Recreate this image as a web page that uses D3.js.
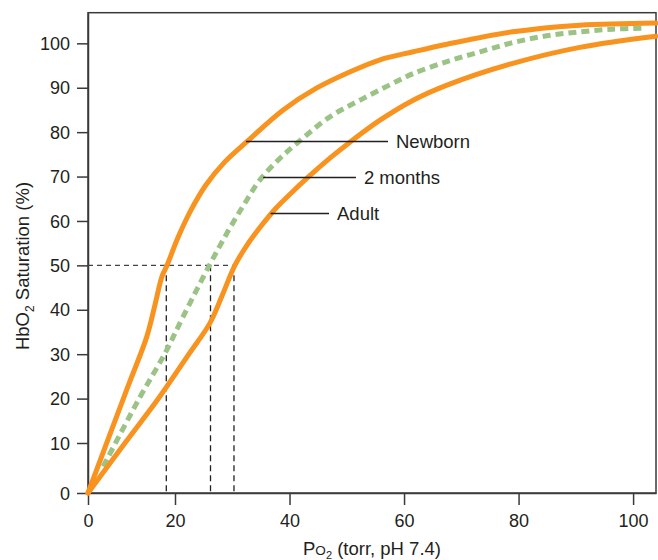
<!DOCTYPE html>
<html>
<head>
<meta charset="utf-8">
<script src="https://cdn.jsdelivr.net/npm/d3@7"></script>
<style>
  html, body { margin: 0; padding: 0; background: #fff; }
  svg { display: block; font-family: "Liberation Sans", Arial, Helvetica, sans-serif; }
</style>
</head>
<body>
<svg id="chart" width="658" height="560"></svg>
<script>
// Oxygen dissociation curves of haemoglobin at three ages (PO2 in torr, saturation in %)
const newbornPO2 = [0, 8.97, 13.5, 15.4, 17.0, 18.2, 20.5, 22.6, 25.4, 28.7, 32.5, 38.9, 44.7, 50.6, 55.8, 61.6, 67.5, 79.0, 90.7, 104.0];
const newbornSat = [0, 22.2, 33.9, 41.1, 47.5, 50.1, 56.2, 62.0, 68.1, 73.3, 77.8, 85.0, 89.9, 93.6, 96.3, 98.1, 99.8, 102.6, 104.1, 104.6];

const twoMonthPO2 = [3.5, 11.7, 17.7, 21.4, 26.0, 29.4, 32.2, 34.8, 38.0, 41.3, 47.1, 52.9, 59.3, 61.6, 67.5, 73.3, 79.1, 84.9, 90.7, 96.5, 101.8];
const twoMonthSat = [5.3, 19.9, 30.2, 38.4, 50.0, 58.0, 64.0, 69.2, 73.7, 77.5, 83.5, 87.6, 91.8, 93.2, 95.9, 98.1, 100.2, 101.7, 102.6, 103.2, 103.4];

const adultPO2 = [0, 8.5, 16.1, 22.3, 26.1, 28.2, 30.5, 32.7, 35.0, 37.5, 40.3, 43.1, 47.1, 50.6, 55.8, 61.6, 67.5, 79.0, 90.7, 104.0];
const adultSat = [0, 10.0, 19.9, 29.8, 37.0, 43.1, 50.1, 54.8, 58.8, 62.7, 66.3, 69.7, 74.2, 77.8, 82.7, 87.2, 90.6, 95.5, 99.1, 101.6];

// PO2 at half saturation for each curve (newborn, 2 months, adult)
const p50Values = [18, 26.2, 30.3];
const halfSaturation = 50;

const xTickValues = [0, 20, 40, 60, 80, 100];
const yTickValues = [0, 10, 20, 30, 40, 50, 60, 70, 80, 90, 100];

const curveLabels = ["Newborn", "2 months", "Adult"];
// each label points at its curve at this saturation level
const labelSat = [77.9, 69.8, 61.7];
const labelLineStart = [32.4, 35.4, 36.7];
const labelLineEnd = [57.2, 51.6, 46.9];

const svg = d3.select("#chart");
const ink = "#231f20";
const orange = "#f7931e";
const green = "#9cc386";

// the printed axis compresses the 0-20 and 0-10 ranges slightly
const x = d3.scaleLinear().domain([0, 20, 104]).range([88, 175, 656]);
const y = d3.scaleLinear().domain([0, 10, 106.9]).range([493, 443, 12.7]);

// frame
svg.append("rect")
  .attr("x", x(0)).attr("y", y(106.9))
  .attr("width", x(104) - x(0)).attr("height", y(0) - y(106.9))
  .attr("fill", "none").attr("stroke", "#3a3a3a").attr("stroke-width", 1.5);

// axes
const xAxis = svg.append("g")
  .attr("transform", `translate(0,${y(0)})`)
  .call(d3.axisBottom(x).tickValues(xTickValues).tickSize(12).tickSizeOuter(0).tickPadding(9));
const yAxis = svg.append("g")
  .attr("transform", `translate(${x(0)},0)`)
  .call(d3.axisLeft(y).tickValues(yTickValues).tickSize(11).tickSizeOuter(0).tickPadding(7));

[xAxis, yAxis].forEach(g => {
  g.select(".domain").attr("stroke", "#3a3a3a").attr("stroke-width", 1.5);
  g.selectAll(".tick line").attr("stroke", "#3a3a3a").attr("stroke-width", 1.5);
  g.selectAll(".tick text")
    .attr("fill", ink)
    .style("font-size", "18px")
    .style("font-family", "'Liberation Sans', Arial, Helvetica, sans-serif");
});
yAxis.selectAll(".tick text").attr("dy", "0.34em");

// P50 guide lines
const guideLeft = d3.max(p50Values);
svg.append("line")
  .attr("x1", x(0)).attr("x2", x(guideLeft))
  .attr("y1", y(halfSaturation)).attr("y2", y(halfSaturation))
  .attr("stroke", "#444").attr("stroke-width", 1.3).attr("stroke-dasharray", "5,4");
svg.selectAll(".p50")
  .data(p50Values)
  .enter().append("line")
  .attr("class", "p50")
  .attr("x1", d => x(d)).attr("x2", d => x(d))
  .attr("y1", y(halfSaturation)).attr("y2", y(0))
  .attr("stroke", "#222").attr("stroke-width", 1.3).attr("stroke-dasharray", "6,4");

// curves
const line = d3.line()
  .x(d => x(d[0]))
  .y(d => y(d[1]))
  .curve(d3.curveCatmullRom.alpha(0.5));

const zip = (a, b) => a.map((v, i) => [v, b[i]]);

svg.append("path")
  .datum(zip(twoMonthPO2, twoMonthSat))
  .attr("d", line)
  .attr("fill", "none")
  .attr("stroke", green)
  .attr("stroke-width", 5)
  .attr("stroke-dasharray", "8,5");

[zip(newbornPO2, newbornSat), zip(adultPO2, adultSat)].forEach(pts => {
  svg.append("path")
    .datum(pts)
    .attr("d", line)
    .attr("fill", "none")
    .attr("stroke", orange)
    .attr("stroke-width", 5)
    .attr("stroke-linecap", "round")
    .attr("stroke-linejoin", "round");
});

// curve labels with leader lines
const labels = svg.selectAll(".curve-label")
  .data(curveLabels)
  .enter().append("g")
  .attr("class", "curve-label");
labels.append("line")
  .attr("x1", (d, i) => x(labelLineStart[i]))
  .attr("x2", (d, i) => x(labelLineEnd[i]))
  .attr("y1", (d, i) => y(labelSat[i]))
  .attr("y2", (d, i) => y(labelSat[i]))
  .attr("stroke", ink).attr("stroke-width", 1.5);
labels.append("text")
  .attr("x", (d, i) => x(labelLineEnd[i]) + 8)
  .attr("y", (d, i) => y(labelSat[i]))
  .attr("dy", "0.36em")
  .attr("fill", ink)
  .style("font-size", "18.5px")
  .text(d => d);

// axis titles
const xTitle = svg.append("text")
  .attr("x", (x(0) + x(104)) / 2)
  .attr("y", 555)
  .attr("text-anchor", "middle")
  .attr("fill", ink)
  .style("font-size", "18.5px");
xTitle.append("tspan").text("P");
xTitle.append("tspan").style("font-size", "13.5px").text("O");
xTitle.append("tspan").style("font-size", "11px").attr("dy", 4).text("2");
xTitle.append("tspan").attr("dy", -4).text(" (torr, pH 7.4)");

const yTitle = svg.append("text")
  .attr("transform", "translate(28.5,266) rotate(-90)")
  .attr("text-anchor", "middle")
  .attr("fill", ink)
  .style("font-size", "18.5px");
yTitle.append("tspan").text("HbO");
yTitle.append("tspan").style("font-size", "12px").attr("dy", 5).text("2");
yTitle.append("tspan").attr("dy", -5).text(" Saturation (%)");
</script>
</body>
</html>
